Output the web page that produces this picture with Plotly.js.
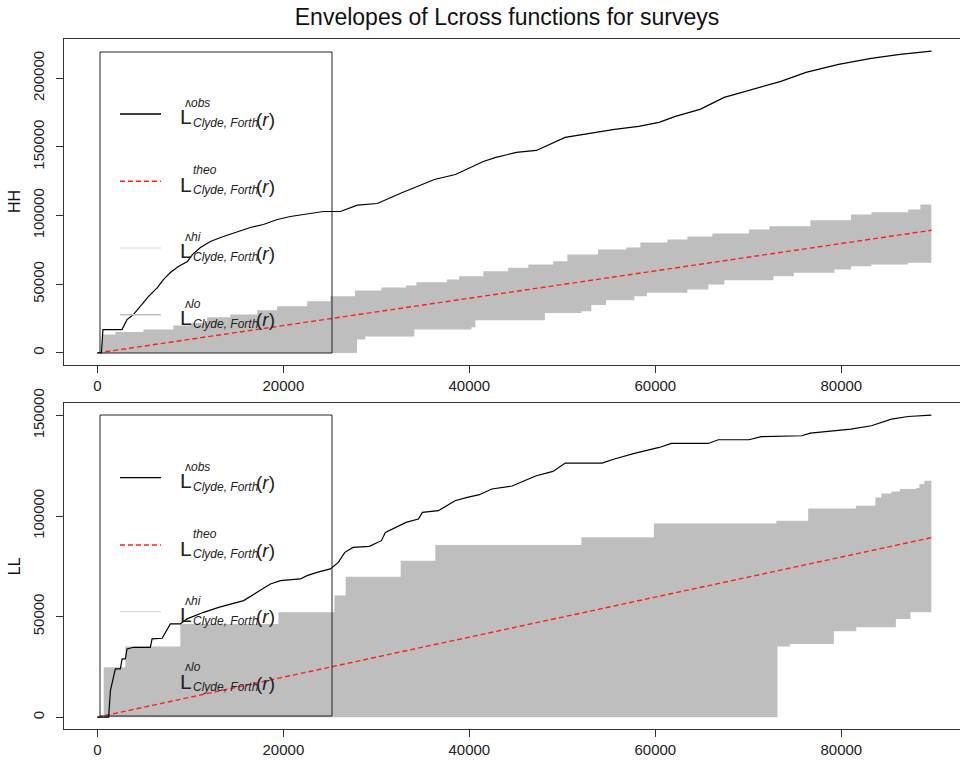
<!DOCTYPE html>
<html>
<head>
<meta charset="utf-8">
<script src="https://cdn.plot.ly/plotly-3.0.1.min.js"></script>
<style>html,body{margin:0;padding:0;background:#fff;}#chart{width:960px;height:762px;}</style>
</head>
<body>
<div id="chart"></div>
<script>
// ---------- DATA ----------
// HH panel
const hhObsR = [0, 430, 600, 2650, 3190, 3870, 4950, 5480, 6450, 7100, 7850, 8710, 9680, 10220, 11080, 12150, 13550, 15050, 16450, 17850, 19350, 20750, 22150, 23650, 24300, 26130, 27960, 30100, 32800, 36240, 38500, 41500, 42850, 45050, 47200, 50300, 52900, 55600, 58200, 60400, 62150, 64800, 67400, 70500, 73500, 76200, 79700, 83200, 86300, 89700];
const hhObsL = [0, 0, 16970, 16970, 24260, 27900, 36640, 41010, 47570, 53400, 58500, 62870, 66510, 71610, 76710, 81080, 84730, 88370, 91280, 93470, 97110, 99300, 100760, 102220, 102940, 102940, 107530, 108770, 116780, 126250, 129890, 139360, 142280, 145920, 147380, 156850, 159760, 162680, 164860, 167780, 172150, 177250, 185990, 191820, 197640, 204200, 210030, 214400, 217310, 219710];
const hhHiR = [0, 505, 1935, 4950, 8170, 10000, 11800, 14300, 17170, 19320, 22550, 25050, 27700, 30540, 33190, 34300, 37580, 38900, 41500, 44170, 46340, 49000, 50540, 53830, 56880, 58390, 61290, 63440, 66130, 70060, 72260, 76670, 81030, 83230, 87180, 88500, 89680];
const hhHiL = [0, 13330, 15300, 16970, 19890, 21850, 25930, 27900, 31030, 33950, 37590, 41230, 45380, 47570, 49030, 51430, 53400, 55800, 59450, 61920, 64330, 66730, 71610, 75250, 76710, 80350, 82540, 84730, 86910, 89830, 92230, 96600, 100750, 102430, 104400, 108040, 108040];
const hhLoR = [0, 27920, 28820, 34090, 40220, 40650, 48120, 52040, 53120, 54700, 57740, 59090, 63440, 65700, 67420, 72690, 74890, 79250, 81030, 83230, 87180, 89680];
const hhLoL = [0, 9690, 12000, 16970, 18650, 23750, 29140, 30310, 34970, 38320, 41230, 43710, 46110, 49750, 52880, 55800, 58280, 60680, 63080, 64330, 65560, 67460];
const hhTheoR = [0, 89700];
const hhTheoL = [0, 89300];

// LL panel
const llObsR = [0, 1215, 1400, 1750, 1935, 2470, 2660, 3010, 3190, 3900, 5700, 5880, 6960, 7850, 8920, 9650, 11430, 13040, 14300, 15730, 17170, 18600, 19680, 21830, 22550, 23620, 25050, 25910, 26610, 27490, 29250, 30540, 30970, 32100, 33190, 34520, 34950, 36670, 38460, 39780, 41080, 42410, 44600, 45910, 47200, 48990, 50320, 54260, 55590, 57740, 60410, 61720, 65680, 66770, 70060, 71400, 75760, 76650, 81030, 83230, 85380, 87180, 89680];
const llObsL = [0, 0, 13260, 19870, 24040, 24040, 29010, 29010, 33980, 34770, 34770, 38950, 39240, 46400, 46400, 48880, 52160, 54640, 56330, 57970, 62100, 66270, 67910, 68750, 70390, 72030, 73720, 77000, 81970, 84450, 84950, 87780, 91900, 94390, 96870, 98560, 101840, 102680, 107650, 109290, 110630, 113460, 114950, 117580, 120070, 122200, 126380, 126380, 128370, 131150, 134130, 136110, 136110, 137950, 137950, 139490, 139940, 141280, 143270, 144910, 148240, 149530, 150220];
const llHiR = [0, 680, 3010, 8920, 19460, 25480, 26700, 32620, 36340, 52040, 59840, 73010, 76430, 81560, 83660, 84300, 85380, 86300, 88060, 88390, 88920, 89680];
const llHiL = [0, 24840, 35120, 46400, 52160, 60460, 69900, 77840, 85640, 89420, 96370, 97720, 103830, 105170, 109290, 111280, 112270, 113460, 113960, 115950, 117580, 119220];
const llLoR = [0, 73130, 74450, 79190, 81610, 85860, 87420, 89680];
const llLoL = [0, 35120, 36460, 42720, 44710, 48880, 52160, 52160];
const llTheoR = [0, 89700];
const llTheoL = [0, 89300];

const xTicks = [0, 20000, 40000, 60000, 80000];
const hhTicks = [0, 50000, 100000, 150000, 200000];
const llTicks = [0, 50000, 100000, 150000];
const panelNames = ['HH', 'LL'];
const chartTitle = 'Envelopes of Lcross functions for surveys';
const legendSup = ['obs', 'theo', 'hi', 'lo'];
const legendHat = [true, false, true, true];
const legendSub = 'Clyde, Forth';

// ---------- helpers ----------
const W = 960, H = 762;
const FONT = 'Liberation Sans, Arial, Helvetica, sans-serif';
const px = p => p / W;
const py = p => 1 - p / H;

function stairs(xs, ys) {
  const X = [], Y = [];
  for (let i = 0; i < xs.length; i++) {
    X.push(xs[i]); Y.push(ys[i]);
    if (i + 1 < xs.length) { X.push(xs[i + 1]); Y.push(ys[i]); }
  }
  return [X, Y];
}
function band(hr, hl, lr, ll, xa, ya) {
  const [hx, hy] = stairs(hr, hl);
  const [lx, ly] = stairs(lr, ll);
  return {
    x: hx.concat(lx.slice().reverse()),
    y: hy.concat(ly.slice().reverse()),
    type: 'scatter', mode: 'lines', fill: 'toself',
    fillcolor: '#bebebe', line: {width: 0, color: '#bebebe'},
    xaxis: xa, yaxis: ya, hoverinfo: 'skip', showlegend: false
  };
}
function theo(r, l, xa, ya) {
  return {x: r, y: l, type: 'scatter', mode: 'lines',
    line: {color: '#ff2020', width: 1.4, dash: '5px,3px'},
    xaxis: xa, yaxis: ya, showlegend: false};
}
function obs(r, l, xa, ya) {
  return {x: r, y: l, type: 'scatter', mode: 'lines',
    line: {color: '#000', width: 1.2},
    xaxis: xa, yaxis: ya, showlegend: false};
}

const data = [
  band(hhHiR, hhHiL, hhLoR, hhLoL, 'x', 'y'),
  theo(hhTheoR, hhTheoL, 'x', 'y'),
  obs(hhObsR, hhObsL, 'x', 'y'),
  band(llHiR, llHiL, llLoR, llLoL, 'x2', 'y2'),
  theo(llTheoR, llTheoL, 'x2', 'y2'),
  obs(llObsR, llObsL, 'x2', 'y2')
];

const xRange = [-3588, 92757];
function xax(anchor) {
  return {domain: [64 / W, 1], anchor: anchor, range: xRange,
    tickmode: 'array', tickvals: xTicks, ticktext: xTicks.map(String),
    showgrid: false, zeroline: false, showline: true, mirror: true,
    linecolor: '#333', linewidth: 1, ticks: 'outside', ticklen: 7, tickcolor: '#333',
    ticklabelstandoff: 0,
    tickfont: {family: FONT, size: 15, color: '#222'}};
}
function yax(anchor, dom, rng, tv) {
  return {domain: dom, anchor: anchor, range: rng,
    tickmode: 'array', tickvals: tv, ticktext: tv.map(String), tickangle: -90,
    showgrid: false, zeroline: false, showline: true, mirror: false,
    linecolor: '#333', linewidth: 1, ticks: 'outside', ticklen: 7, tickcolor: '#333',
    ticklabelstandoff: 6,
    tickfont: {family: FONT, size: 15, color: '#222'}};
}

const shapes = [];
const annotations = [];
const panels = [
  {top: 39, bot: 365, legTop: 52, legBot: 353, rows: [114, 181.3, 248, 314.7], name: panelNames[0]},
  {top: 403, bot: 729.3, legTop: 415, legBot: 716, rows: [477.7, 545, 611.7, 678], name: panelNames[1]}
];
const lineStyles = [
  {color: '#000', width: 1.3},
  {color: '#ff2020', width: 1.4, dash: '5px,3px'},
  {color: '#d6d6d6', width: 1},
  {color: '#bebebe', width: 1.6}
];
panels.forEach(p => {
  shapes.push({type: 'rect', xref: 'paper', yref: 'paper',
    x0: px(100), x1: px(332), y0: py(p.legBot), y1: py(p.legTop),
    line: {color: '#222', width: 1}, fillcolor: 'rgba(0,0,0,0)'});
  p.rows.forEach((ry, i) => {
    shapes.push({type: 'line', xref: 'paper', yref: 'paper',
      x0: px(120), x1: px(161), y0: py(ry), y1: py(ry), line: lineStyles[i]});
    annotations.push({xref: 'paper', yref: 'paper', x: px(178), y: py(ry + 3), xanchor: 'left', yanchor: 'middle',
      text: 'L', showarrow: false, font: {family: FONT, size: 21, color: '#222'}});
    const sup = (legendHat[i] ? '\u028C' : '') + '<i>' + legendSup[i] + '</i>';
    annotations.push({xref: 'paper', yref: 'paper', x: legendHat[i] ? px(183) : px(191), y: py(ry - 11), xanchor: 'left', yanchor: 'middle',
      text: sup, showarrow: false, font: {family: FONT, size: 12, color: '#222'}});
    annotations.push({xref: 'paper', yref: 'paper', x: px(191), y: py(ry + 9), xanchor: 'left', yanchor: 'middle',
      text: '<i>' + legendSub + '</i>', showarrow: false, font: {family: FONT, size: 12, color: '#222'}});
    annotations.push({xref: 'paper', yref: 'paper', x: px(254), y: py(ry + 5), xanchor: 'left', yanchor: 'middle',
      text: '(<i>r</i>)', showarrow: false, font: {family: FONT, size: 19, color: '#222'}});
  });
  annotations.push({xref: 'paper', yref: 'paper', x: px(14), y: py((p.top + p.bot) / 2),
    xanchor: 'center', yanchor: 'middle', textangle: -90, text: p.name, showarrow: false,
    font: {family: FONT, size: 16, color: '#111'}});
});

const layout = {
  width: W, height: H,
  margin: {l: 0, r: 0, t: 0, b: 0},
  paper_bgcolor: '#fff', plot_bgcolor: '#fff',
  showlegend: false,
  title: {text: chartTitle, x: 507 / W, xanchor: 'center', y: py(17), yanchor: 'middle',
    font: {family: FONT, size: 23, color: '#111'}},
  xaxis: xax('y'),
  yaxis: yax('x', [1 - 365 / H, 1 - 39 / H], [-8790, 228500], hhTicks),
  xaxis2: xax('y2'),
  yaxis2: yax('x2', [1 - 729.3 / H, 1 - 403 / H], [-6010, 156230], llTicks),
  shapes: shapes,
  annotations: annotations
};

Plotly.newPlot('chart', data, layout, {displayModeBar: false, staticPlot: true});
</script>
</body>
</html>
